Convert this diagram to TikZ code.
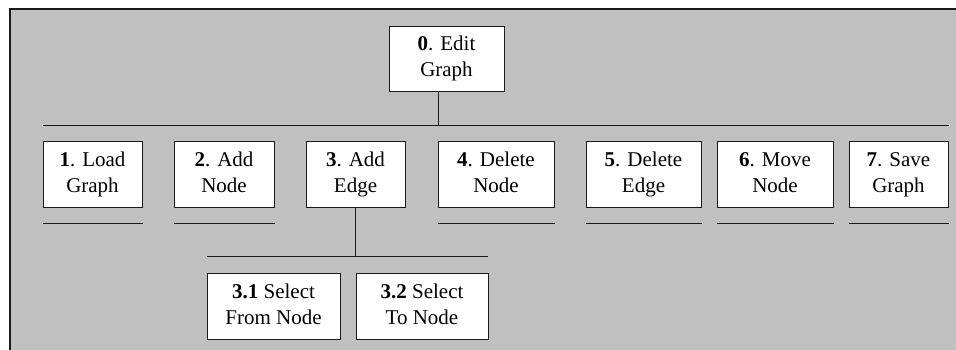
\documentclass[tikz,border=0pt]{standalone}
\usepackage{fontspec}
\setmainfont{Liberation Serif}
\definecolor{panel}{HTML}{C0C0C0}
\definecolor{ink}{HTML}{1A1A1A}
\newcommand{\tl}[2]{\strut #1\\\strut #2}
\begin{document}
\begin{tikzpicture}[x=1pt,y=-1pt,
  taskbox/.style={draw=ink, fill=white, line width=1pt, inner sep=0pt,
    align=center, minimum height=66pt,
    font=\fontsize{21}{26}\selectfont},
  wire/.style={draw=ink, line width=1pt}]
\useasboundingbox (0,0) rectangle (956,349);
\clip (0,0) rectangle (956,349);
% panel
\fill[panel] (10,9) rectangle (970,360);
\draw[ink, line width=1.2pt] (10,360) -- (10,9) -- (970,9);

% root task
\node[taskbox, minimum width=115pt, minimum height=65pt] (n0) at (446.5,58.5) {\tl{\textbf{0}. Edit}{Graph}};

% first level
\node[taskbox, minimum width=99pt]  (n1) at (92.5,174)  {\tl{\textbf{1}. Load}{Graph}};
\node[taskbox, minimum width=100pt] (n2) at (224,174)   {\tl{\textbf{2}. Add}{Node}};
\node[taskbox, minimum width=99pt]  (n3) at (355.5,174) {\tl{\textbf{3}. Add}{Edge}};
\node[taskbox, minimum width=116pt] (n4) at (496,174)   {\tl{\textbf{4}. Delete}{Node}};
\node[taskbox, minimum width=115pt] (n5) at (643.5,174) {\tl{\textbf{5}. Delete}{Edge}};
\node[taskbox, minimum width=116pt] (n6) at (775,174)   {\tl{\textbf{6}. Move}{Node}};
\node[taskbox, minimum width=99pt]  (n7) at (898.5,174) {\tl{\textbf{7}. Save}{Graph}};

% second level under task 3
\node[taskbox, minimum width=133pt] (n31) at (273.5,306) {\tl{\textbf{3.1} Select}{From Node}};
\node[taskbox, minimum width=132pt] (n32) at (422,306)   {\tl{\textbf{3.2} Select}{To Node}};

% bus from the root
\coordinate (busL) at (43,125);
\coordinate (busR) at (949,125);
\coordinate (rootdrop) at (438,125);
\draw[wire] (busL) -- (busR);
\draw[wire] (n0.south -| rootdrop) -- (rootdrop);

% bus below task 3
\coordinate (subL) at (207,256);
\coordinate (subR) at (488,256);
\draw[wire] (subL) -- (subR);
\draw[wire] (n3.south) -- (n3.south |- subL);

% underlines of the leaf tasks
\foreach \n in {n1,n2,n4,n5,n6,n7}
  \draw[wire] ([yshift=-16pt]\n.south west) -- ([yshift=-16pt]\n.south east);
\end{tikzpicture}
\end{document}
